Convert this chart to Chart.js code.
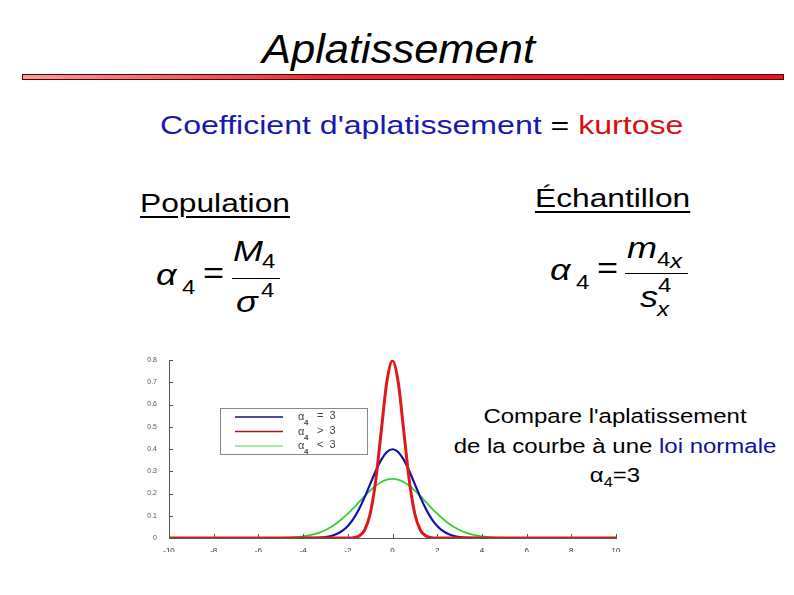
<!DOCTYPE html>
<html>
<head>
<meta charset="utf-8">
<script src="https://cdn.jsdelivr.net/npm/chart.js@4"></script>
<style>
  body { margin: 0; width: 794px; height: 595px; background: #fff; position: relative; overflow: hidden;
         font-family: "Liberation Sans", Arial, sans-serif; }
  .abs { position: absolute; white-space: nowrap; transform-origin: 0 0; }
  .wide { transform: scaleX(1.2); }
  #title { left: 262px; top: 26px; font-size: 41px; font-style: italic; color: #000; transform: scaleX(1.06); }
  #rule { left: 22px; top: 74px; width: 760px; height: 4px; border: 1px solid #5a0000;
          background: linear-gradient(to right, #f4a0a0, #e43030 40%, #e01818); }
  #coef { left: 160px; top: 110px; font-size: 26.5px; color: #1818b0; transform: scaleX(1.21); }
  #coef .eq { color: #000; } #coef .k { color: #d81010; }
  .head { font-size: 26px; text-decoration: underline; text-decoration-thickness: 2px; text-underline-offset: 4px; transform: scaleX(1.22); }
  .math { font-size: 30px; }
  .it { font-style: italic; }
  .sub { font-size: 20px; }
  .bar { position: absolute; height: 1px; background: #000; }
  #note { left: 440px; width: 350px; top: 401px; text-align: center; font-size: 20.5px; line-height: 29.5px; color: #000;
          transform: scaleX(1.17); transform-origin: 175px 0; }
  #note .b { color: #10109a; }
  #wrap { position: absolute; left: 140px; top: 350px; width: 490px; height: 202px; }
</style>
</head>
<body>
<div id="title" class="abs">Aplatissement</div>
<div id="rule" class="abs"></div>
<div id="coef" class="abs">Coefficient d'aplatissement <span class="eq">=</span> <span class="k">kurtose</span></div>

<div class="abs head" style="left:140px;top:188px;">Population</div>
<div class="abs head" style="left:535px;top:183px;">Échantillon</div>

<!-- population formula -->
<div class="abs math it wide" style="left:156px;top:258px;">α</div>
<div class="abs sub wide" style="left:182px;top:276px;">4</div>
<div class="abs math wide" style="left:203px;top:256px;">=</div>
<div class="abs math it wide" style="left:233px;top:234px;">M</div>
<div class="abs sub wide" style="left:262px;top:250px;">4</div>
<div class="bar" style="left:232px;top:278px;width:48px;"></div>
<div class="abs math it wide" style="left:236px;top:285px;">σ</div>
<div class="abs sub wide" style="left:261px;top:279px;">4</div>

<!-- sample formula -->
<div class="abs math it wide" style="left:550px;top:253px;">α</div>
<div class="abs sub wide" style="left:576px;top:271px;">4</div>
<div class="abs math wide" style="left:597px;top:251px;">=</div>
<div class="abs math it wide" style="left:627px;top:231px;">m</div>
<div class="abs sub wide" style="left:657px;top:248px;">4</div>
<div class="abs sub it wide" style="left:670px;top:250px;">x</div>
<div class="bar" style="left:625px;top:273px;width:63px;"></div>
<div class="abs math it wide" style="left:640px;top:280px;">s</div>
<div class="abs sub wide" style="left:658px;top:274px;">4</div>
<div class="abs sub it wide" style="left:657px;top:298px;">x</div>

<div id="note" class="abs">Compare l'aplatissement<br>de la courbe à une <span class="b">loi normale</span><br>α<sub style="font-size:14px">4</sub>=3</div>

<div id="wrap"><canvas id="chart"></canvas></div>

<script>
// x positions sampled along the curves
const xValues = [-10, -7, -5, -4.75, -4.5, -4.25, -4, -3.75, -3.5, -3.25, -3, -2.75, -2.5, -2.25, -2, -1.75, -1.5, -1.25, -1, -0.75, -0.5, -0.25,
  0, 0.25, 0.5, 0.75, 1, 1.25, 1.5, 1.75, 2, 2.25, 2.5, 2.75, 3, 3.25, 3.5, 3.75, 4, 4.25, 4.5, 4.75, 5, 7, 10];

const normalCurve = [0, 0, 0, 0, 0, 0, 0.0001, 0.0004, 0.0009, 0.0020, 0.0044, 0.0091, 0.0175, 0.0317, 0.0540, 0.0863, 0.1295, 0.1826, 0.2420, 0.3011, 0.3521, 0.3867,
  0.3989, 0.3867, 0.3521, 0.3011, 0.2420, 0.1826, 0.1295, 0.0863, 0.0540, 0.0317, 0.0175, 0.0091, 0.0044, 0.0020, 0.0009, 0.0004, 0.0001, 0, 0, 0, 0, 0, 0];

const peakedCurve = [0, 0, 0, 0, 0, 0, 0, 0, 0, 0, 0, 0, 0, 0, 0.0003, 0.0017, 0.0089, 0.0350, 0.1080, 0.2590, 0.4840, 0.7040,
  0.7980, 0.7040, 0.4840, 0.2590, 0.1080, 0.0350, 0.0089, 0.0017, 0.0003, 0, 0, 0, 0, 0, 0, 0, 0, 0, 0, 0, 0, 0, 0];

const flatCurve = [0, 0, 0.0010, 0.0018, 0.0030, 0.0048, 0.0076, 0.0117, 0.0175, 0.0255, 0.0360, 0.0495, 0.0663, 0.0863, 0.1093, 0.1345, 0.1613, 0.1881, 0.2130, 0.2347, 0.2516, 0.2623,
  0.2660, 0.2623, 0.2516, 0.2347, 0.2130, 0.1881, 0.1613, 0.1345, 0.1093, 0.0863, 0.0663, 0.0495, 0.0360, 0.0255, 0.0175, 0.0117, 0.0076, 0.0048, 0.0030, 0.0018, 0.0010, 0, 0];

const seriesLabels = ['=  3', '>  3', '<  3'];
const xTicks = [-10, -8, -6, -4, -2, 0, 2, 4, 6, 8, 10];
const yTicks = [0, 0.1, 0.2, 0.3, 0.4, 0.5, 0.6, 0.7, 0.8];

const toPoints = ys => xValues.map((x, i) => ({ x, y: ys[i] }));

// inward tick marks, matlab style
const innerTicks = {
  id: 'innerTicks',
  afterDraw(chart) {
    const { ctx, chartArea, scales } = chart;
    ctx.save();
    ctx.strokeStyle = '#555';
    ctx.lineWidth = 1;
    ctx.beginPath();
    yTicks.forEach(v => {
      const y = Math.round(scales.y.getPixelForValue(v)) + 0.5;
      ctx.moveTo(chartArea.left, y); ctx.lineTo(chartArea.left + 4, y);
    });
    xTicks.forEach(v => {
      const x = Math.round(scales.x.getPixelForValue(v)) + 0.5;
      ctx.moveTo(x, chartArea.bottom); ctx.lineTo(x, chartArea.bottom - 4);
    });
    ctx.stroke();
    ctx.restore();
  }
};

// legend box drawn inside the plot
const boxLegend = {
  id: 'boxLegend',
  afterDraw(chart) {
    const { ctx, chartArea } = chart;
    const left = chartArea.left + 51, top = chartArea.top + 48;
    ctx.save();
    ctx.fillStyle = '#fff';
    ctx.fillRect(left, top, 147, 46);
    ctx.strokeStyle = '#888';
    ctx.lineWidth = 1;
    ctx.strokeRect(left + 0.5, top + 0.5, 147, 46);
    chart.data.datasets.forEach((ds, i) => {
      const y = top + 9 + i * 14.5;
      ctx.strokeStyle = ds.legendColor;
      ctx.lineWidth = 1.5;
      ctx.beginPath();
      ctx.moveTo(left + 15, y); ctx.lineTo(left + 63, y);
      ctx.stroke();
      ctx.fillStyle = '#444';
      ctx.textBaseline = 'middle';
      ctx.font = '11px "Liberation Sans"';
      ctx.fillText('α', left + 78, y);
      ctx.font = 'bold 8px "Liberation Sans"';
      ctx.fillText('4', left + 84, y + 6);
      ctx.font = '11px "Liberation Sans"';
      ctx.fillText(seriesLabels[i], left + 97, y - 1);
    });
    ctx.restore();
  }
};

new Chart(document.getElementById('chart'), {
  type: 'line',
  data: {
    datasets: [
      { label: seriesLabels[0], data: toPoints(normalCurve), borderColor: '#1010b0', legendColor: '#101080', borderWidth: 2.2, order: 2 },
      { label: seriesLabels[1], data: toPoints(peakedCurve), borderColor: '#e01818', legendColor: '#a01818', borderWidth: 3, order: 1 },
      { label: seriesLabels[2], data: toPoints(flatCurve), borderColor: '#33d033', legendColor: '#88e088', borderWidth: 1.8, order: 3 }
    ]
  },
  options: {
    responsive: true,
    maintainAspectRatio: false,
    animation: false,
    elements: { point: { radius: 0 }, line: { cubicInterpolationMode: 'monotone' } },
    layout: { padding: { top: 10, right: 14, left: 0, bottom: 0 } },
    plugins: { legend: { display: false }, tooltip: { enabled: false } },
    scales: {
      x: {
        type: 'linear', min: -10, max: 10,
        afterBuildTicks: s => { s.ticks = xTicks.map(v => ({ value: v })); },
        afterFit: s => { s.height = 14; },
        grid: { display: false },
        border: { color: '#555', width: 1 },
        ticks: { color: '#333', font: { size: 8, family: 'Liberation Sans' }, padding: 0, maxRotation: 0 }
      },
      y: {
        min: 0, max: 0.8,
        afterBuildTicks: s => { s.ticks = yTicks.map(v => ({ value: v })); },
        afterFit: s => { s.width = 29; },
        grid: { display: false },
        border: { color: '#555', width: 1 },
        ticks: { color: '#555', font: { size: 7, family: 'Liberation Sans' }, padding: 4 }
      }
    }
  },
  plugins: [innerTicks, boxLegend]
});
</script>
</body>
</html>
